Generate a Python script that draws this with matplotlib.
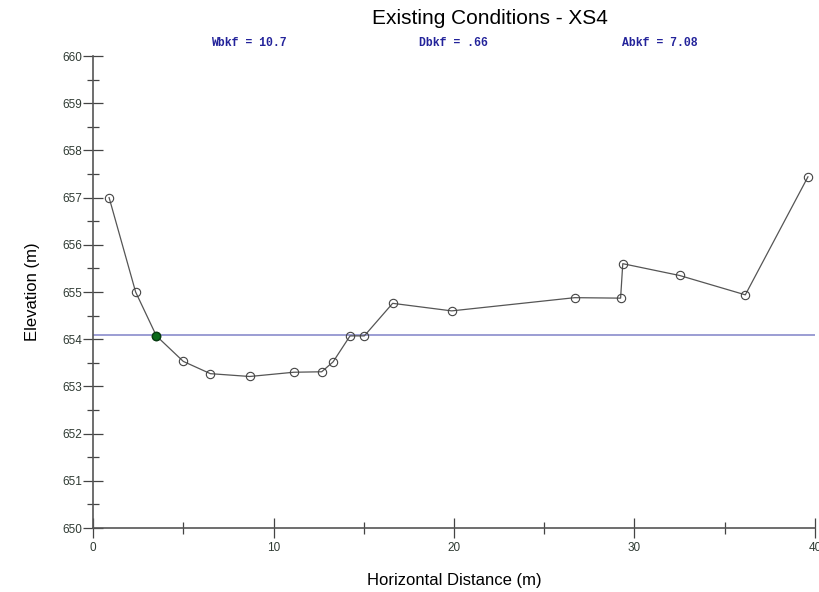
import matplotlib
matplotlib.use("Agg")
import matplotlib.pyplot as plt
from matplotlib.ticker import MultipleLocator

# cross-section survey points
station = [0.89, 2.36, 3.51, 5.00, 6.50, 8.68, 11.12, 12.67, 13.30, 14.24,
           15.03, 16.60, 19.87, 26.69, 29.23, 29.35, 32.50, 36.14, 39.61]
elevation = [657.00, 655.00, 654.07, 653.53, 653.27, 653.21, 653.30, 653.31,
             653.52, 654.07, 654.07, 654.76, 654.60, 654.88, 654.87, 655.60,
             655.35, 654.94, 657.44]
bankfull_elev = 654.08
bankfull_idx = 2  # the filled (green) point
stats = ["Wbkf = 10.7", "Dbkf = .66", "Abkf = 7.08"]
stats_x = [0.304, 0.554, 0.806]

plt.rcParams['font.family'] = ['Liberation Sans', 'DejaVu Sans']

fig = plt.figure(figsize=(8.19, 5.92), dpi=100)
ax = fig.add_axes([0.1136, 0.1081, 0.8815, 0.7973])

ax.axhline(bankfull_elev, color='#8a8ccc', lw=1.2, zorder=1)
ax.plot(station, elevation, color='#555555', lw=0.9, marker='o', ms=6,
        mfc='none', mec='#444444', mew=0.8, zorder=2)
ax.plot(station[bankfull_idx], elevation[bankfull_idx], 'o', ms=6,
        mfc='#0a6a1a', mec='#063d10', zorder=3)

ax.set_xlim(0, 40)
ax.set_ylim(650, 660)
ax.xaxis.set_major_locator(MultipleLocator(10))
ax.xaxis.set_minor_locator(MultipleLocator(5))
ax.yaxis.set_major_locator(MultipleLocator(1))
ax.yaxis.set_minor_locator(MultipleLocator(0.5))

for s in ['top', 'right']:
    ax.spines[s].set_visible(False)
for s in ['left', 'bottom']:
    ax.spines[s].set_color('#555555')
    ax.spines[s].set_linewidth(1.2)

ax.tick_params(axis='both', which='major', direction='inout', length=14,
               width=0.9, color='#444444', labelsize=8.5, labelcolor='#2f3a33')
ax.tick_params(axis='both', which='minor', direction='inout', length=8,
               width=0.9, color='#444444')
ax.tick_params(axis='y', which='major', pad=1)
ax.tick_params(axis='x', which='major', pad=3)

ax.set_xlabel('Horizontal Distance (m)', fontsize=12, labelpad=14)
ax.set_ylabel('Elevation (m)', fontsize=12, labelpad=16)

fig.text(0.598, 0.968, 'Existing Conditions - XS4', fontsize=15,
         ha='center', va='center')
for x, s in zip(stats_x, stats):
    fig.text(x, 0.927, s, fontsize=8.3, fontweight='bold',
             family='Liberation Mono', color='#23239a', ha='center', va='center')

fig.savefig('out.png', dpi=100)
